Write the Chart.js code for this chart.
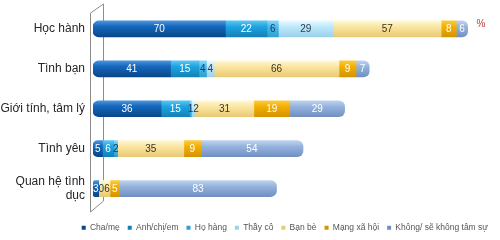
<!DOCTYPE html>
<html><head><meta charset="utf-8">
<script src="https://cdn.jsdelivr.net/npm/chart.js@4.4.1/dist/chart.umd.min.js"></script>
<style>html,body{margin:0;padding:0;background:#fff}#wrap{width:500px;height:240px;position:relative}</style>
</head><body><div id="wrap"><canvas id="c"></canvas></div>
<script>
const categories = ['Học hành', 'Tình bạn', 'Giới tính, tâm lý', 'Tình yêu', ['Quan hệ tình', 'dục']];
const seriesNames = ['Cha/mẹ', 'Anh/chị/em', 'Họ hàng', 'Thầy cô', 'Bạn bè', 'Mạng xã hội', 'Không/ sẽ không tâm sự'];
const chaMe     = [70, 41, 36, 5, 3];
const anhChiEm  = [22, 15, 15, 6, 0];
const hoHang    = [6, 4, 1, 2, null];
const thayCo    = [29, 4, 2, null, null];
const banBe     = [57, 66, 31, 35, 6];
const mangXaHoi = [8, 9, 19, 9, 5];
const khong     = [6, 7, 29, 54, 83];
const unitLabel = '%';

const palette = [
  {base:'#1467bd', light:'#4a94dc', dark:'#0a4788', text:'#ffffff'},
  {base:'#1ea4e0', light:'#5cc6f1', dark:'#1281b9', text:'#ffffff'},
  {base:'#49bdec', light:'#8bd7f6', dark:'#2f9fd0', text:'#1b3a66'},
  {base:'#bfe9fa', light:'#e6f8ff', dark:'#9ad2ec', text:'#2a3a4a'},
  {base:'#fbe6a2', light:'#fff7d6', dark:'#e8ca76', text:'#3a3320'},
  {base:'#f3b000', light:'#fcca40', dark:'#d49400', text:'#ffffff'},
  {base:'#97b4de', light:'#bfd2ee', dark:'#7090c2', text:'#ffffff'}
];
const values = [chaMe, anhChiEm, hoHang, thayCo, banBe, mangXaHoi, khong];
const BAR_T = 16;
const FONT = '"Liberation Sans", Arial, sans-serif';

function cyl(p){
  return function(ctx){
    if (ctx.type !== 'data') return p.base;
    const chart = ctx.chart, ys = chart.scales && chart.scales.y;
    if (!ys) return p.base;
    const c = ys.getPixelForValue(ctx.dataIndex);
    if (!isFinite(c)) return p.base;
    const g = chart.ctx.createLinearGradient(0, c - BAR_T/2, 0, c + BAR_T/2);
    g.addColorStop(0, p.light);
    g.addColorStop(0.35, p.base);
    g.addColorStop(1, p.dark);
    return g;
  };
}

const datasets = seriesNames.map((n, i) => ({
  label: n,
  data: values[i],
  backgroundColor: cyl(palette[i]),
  borderWidth: 0,
  borderSkipped: 'middle',
  borderRadius: 6,
  barThickness: BAR_T
}));

const wallPlugin = {
  id: 'wall',
  beforeDatasetsDraw(chart){
    const c = chart.ctx;
    c.save();
    c.strokeStyle = '#8c8c8c';
    c.lineWidth = 1;
    c.beginPath();
    c.moveTo(103.5, 4); c.lineTo(103.5, 201);
    c.moveTo(90.5, 13); c.lineTo(90.5, 212);
    c.moveTo(90.5, 13); c.lineTo(103.5, 4);
    c.moveTo(90.5, 212); c.lineTo(103.5, 201);
    c.stroke();
    c.restore();
  }
};

const labelPlugin = {
  id: 'vals',
  afterDatasetsDraw(chart){
    const c = chart.ctx;
    c.save();
    c.font = '10px ' + FONT;
    c.textAlign = 'center';
    c.textBaseline = 'middle';
    for (let j = 0; j < categories.length; j++){
      let prevRight = -1e9;
      chart.data.datasets.forEach((ds, i) => {
        const v = ds.data[j];
        if (v === null || v === undefined) return;
        const el = chart.getDatasetMeta(i).data[j];
        if (!el) return;
        const txt = String(v);
        const w = c.measureText(txt).width;
        let cx = (el.x + el.base) / 2;
        if (cx - w/2 < prevRight) cx = prevRight + w/2;
        prevRight = cx + w/2;
        c.fillStyle = Math.abs(el.x - el.base) < 1 ? '#1b3a66' : palette[i].text;
        c.fillText(txt, cx, el.y + 0.5);
      });
    }
    c.fillStyle = '#c0392b';
    c.fillText(unitLabel, 481, 24);
    c.restore();
  }
};

new Chart(document.getElementById('c'), {
  type: 'bar',
  data: { labels: categories, datasets },
  options: {
    indexAxis: 'y',
    responsive: true,
    maintainAspectRatio: false,
    animation: false,
    layout: { padding: { top: 9, right: 4, bottom: -2, left: 0 } },
    scales: {
      x: {
        display: true, stacked: true, min: 0, max: 213,
        grid: { display: false, drawTicks: false },
        border: { display: false },
        ticks: { display: false },
        afterFit(s){ s.height = 7; s.paddingLeft = 0; s.paddingRight = 0; }
      },
      y: {
        stacked: true,
        grid: { display: false, drawTicks: false },
        border: { display: false },
        ticks: { padding: 8, color: '#262626', font: { family: FONT, size: 12, lineHeight: 1.15 } },
        afterFit(s){ s.width = 93; s.paddingTop = 0; s.paddingBottom = 0; }
      }
    },
    plugins: {
      legend: {
        position: 'bottom',
        align: 'end',
        labels: {
          boxWidth: 4, boxHeight: 4, padding: 8,
          color: '#555',
          font: { family: FONT, size: 8.5 }
        }
      },
      tooltip: { enabled: false }
    }
  },
  plugins: [wallPlugin, labelPlugin]
});
</script></body></html>
